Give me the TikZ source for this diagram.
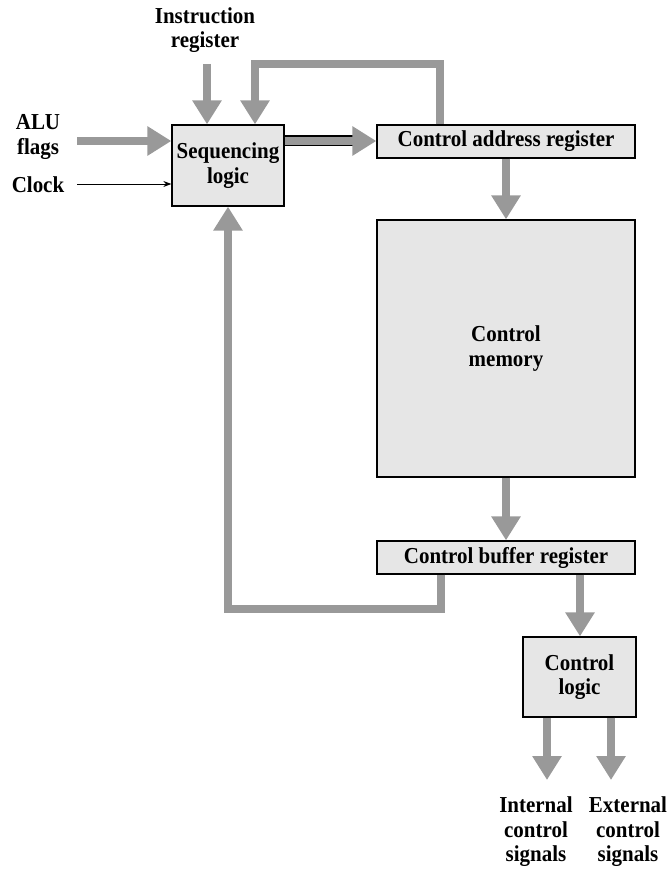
\documentclass[tikz,border=0pt]{standalone}
\usepackage{fontspec}
\setmainfont{Liberation Serif}
\newfontfamily\figfont[FakeStretch=0.92]{Liberation Serif}
\usetikzlibrary{arrows.meta,calc}
\definecolor{boxfill}{HTML}{E6E6E6}
\definecolor{arrowgray}{HTML}{999999}
\begin{document}
\begin{tikzpicture}[x=1pt,y=-1pt,
  box/.style={draw=black,line width=1.3pt,fill=boxfill,inner sep=0pt,align=center,
    font=\figfont\fontsize{22.8}{24.5}\selectfont\bfseries},
  lbl/.style={align=center,inner sep=0pt,font=\figfont\fontsize{22.8}{24.5}\selectfont\bfseries},
  bigarrow/.style={draw=arrowgray,line width=8.5pt,-{Triangle[width=28pt,length=24pt]},fill=none},
  thinarrow/.style={draw=black,line width=0.9pt,-{Stealth[length=8pt,width=6pt]}}
]
\useasboundingbox (0,0) rectangle (670,869);

% boxes
\node[box,minimum width=112pt,minimum height=81pt] (seq) at (228,165.5) {Sequencing\\logic};
\node[box,minimum width=258pt,minimum height=33pt] (car) at (506,141.5) {Control address register};
\node[box,minimum width=258pt,minimum height=257pt] (cm) at (506,348.5) {Control\\memory};
\node[box,minimum width=258pt,minimum height=33pt] (cbr) at (506,557.5) {Control buffer register};
\node[box,minimum width=113pt,minimum height=80pt] (cl) at (579.5,677) {Control\\logic};

% labels
\node[lbl] (ir) at (205,30) {Instruction\\register};
\node[lbl] (alu) at (38,137) {ALU\\flags};
\node[lbl] (clk) at (38,185) {Clock};
\node[lbl] (int) at (536,832) {Internal\\control\\signals};
\node[lbl] (ext) at (628,832) {External\\control\\signals};

% free ends / bends
\coordinate (irend) at (207,64);
\coordinate (aluend) at (77,141);
\coordinate (clkend) at (77,184);
\coordinate (fbtop) at (440,64);
\coordinate (fbin) at (255,64);
\coordinate (fbbot) at (441,609);
\coordinate (fbleft) at (228,609);
\coordinate (cbrx) at (580,0);
\coordinate (intx) at (547,780);
\coordinate (extx) at (611,780);

% connectors
\draw[bigarrow] (irend) -- (irend |- seq.north);
\draw[bigarrow,line join=miter] (fbtop |- car.north) -- (fbtop) -- (fbin) -- (fbin |- seq.north);
\draw[bigarrow] (aluend) -- (aluend -| seq.west);
\draw[thinarrow] (clkend) -- (clkend -| seq.west);

% double bar arrow sequencing -> CAR
\draw[black,line width=11pt] (seq.east |- 0,141) -- (357,141);
\draw[bigarrow] (seq.east |- 0,141) -- (car.west |- 0,141);

\draw[bigarrow] (car.south) -- (cm.north);
\draw[bigarrow] (cm.south) -- (cbr.north);
\draw[bigarrow,line join=miter] (fbbot |- cbr.south) -- (fbbot) -- (fbleft) -- (fbleft |- seq.south);
\draw[bigarrow] (cbrx |- cbr.south) -- (cbrx |- cl.north);
\draw[bigarrow] (intx |- cl.south) -- (intx);
\draw[bigarrow] (extx |- cl.south) -- (extx);
\end{tikzpicture}
\end{document}
